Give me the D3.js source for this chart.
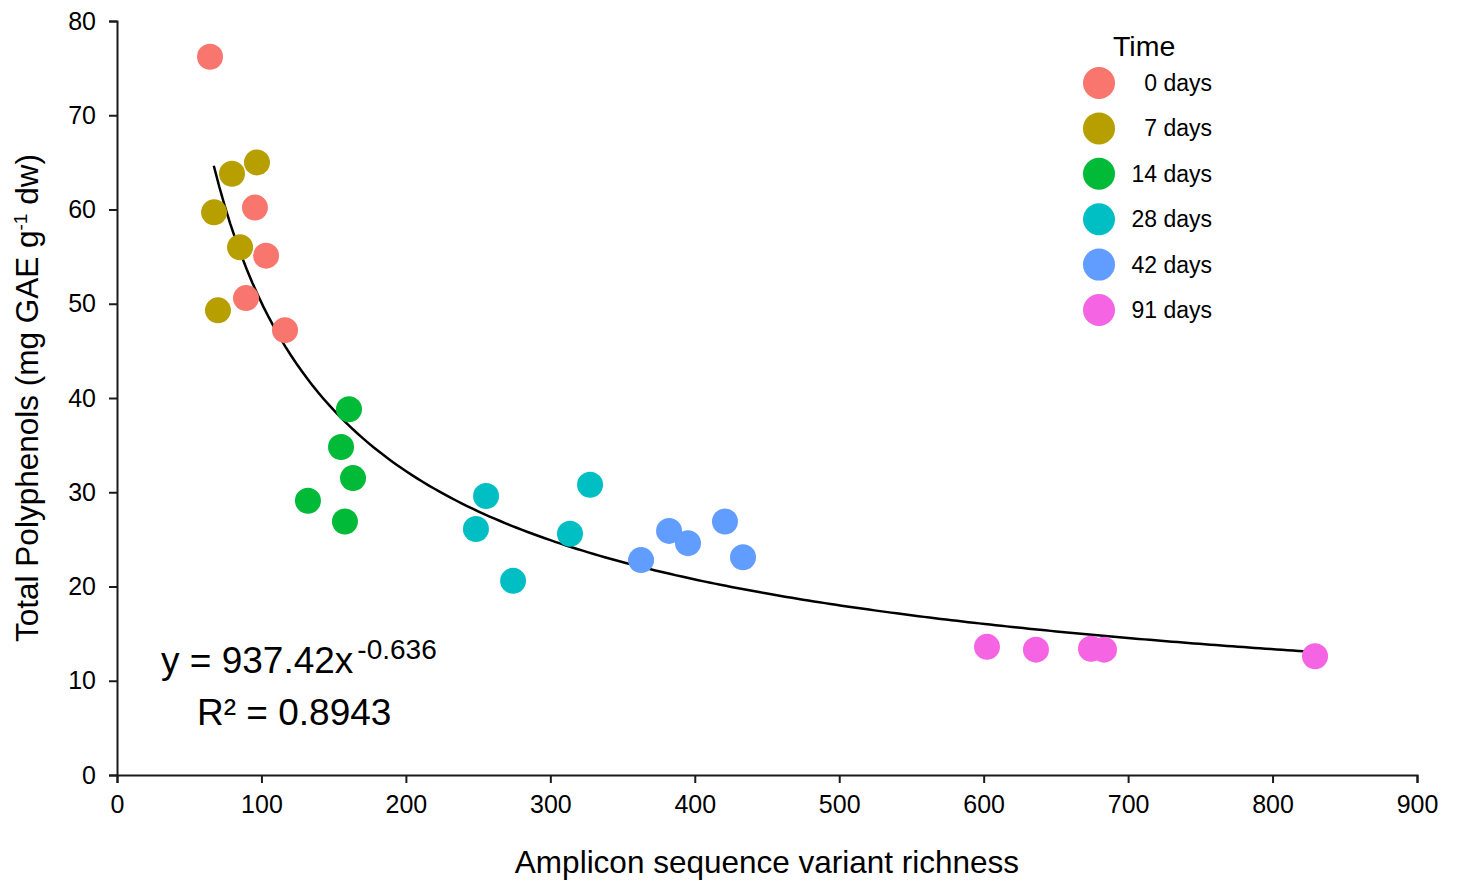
<!DOCTYPE html>
<html>
<head>
<meta charset="utf-8">
<script src="https://cdn.jsdelivr.net/npm/d3@7"></script>
<style>
  html, body { margin: 0; padding: 0; background: #fff; }
  svg { display: block; font-family: Arial, "Liberation Sans", Helvetica, sans-serif; }
</style>
</head>
<body>
<svg id="chart" width="1458" height="881"></svg>
<script>
// ---- Data ----
const groups = ["0 days", "7 days", "14 days", "28 days", "42 days", "91 days"];
const groupColors = ["#F8766D", "#B79F00", "#00BA38", "#00BFC4", "#619CFF", "#F564E3"];

const richness0  = [64.4, 95.5, 103.2, 89.3, 116.3];
const phenols0   = [76.2, 60.2, 55.1, 50.6, 47.2];
const richness7  = [79.6, 96.9, 67.2, 85.2, 69.9];
const phenols7   = [63.8, 65.0, 59.7, 56.0, 49.3];
const richness14 = [160.6, 155.1, 163.4, 132.2, 157.8];
const phenols14  = [38.8, 34.8, 31.5, 29.1, 26.9];
const richness28 = [255.5, 248.5, 327.5, 313.6, 274.2];
const phenols28  = [29.6, 26.1, 30.8, 25.6, 20.6];
const richness42 = [382.2, 395.3, 420.9, 362.8, 433.4];
const phenols42  = [25.9, 24.6, 26.9, 22.8, 23.1];
const richness91 = [602.3, 636.2, 674.3, 683.3, 829.4];
const phenols91  = [13.6, 13.3, 13.4, 13.3, 12.6];

const xTicks = [0, 100, 200, 300, 400, 500, 600, 700, 800, 900];
const yTicks = [0, 10, 20, 30, 40, 50, 60, 70, 80];

// power-law fit y = a * x^b
const fitA = 937.42;
const fitB = -0.636;
const fitRange = [67, 829.4];

const richnessByGroup = [richness0, richness7, richness14, richness28, richness42, richness91];
const phenolsByGroup  = [phenols0, phenols7, phenols14, phenols28, phenols42, phenols91];

const points = [];
groups.forEach((g, gi) => {
  richnessByGroup[gi].forEach((xv, i) => points.push({ group: g, x: xv, y: phenolsByGroup[gi][i] }));
});

// ---- Chart ----
const svg = d3.select("#chart");
const x = d3.scaleLinear().domain([0, 900]).range([117, 1417]);
const y = d3.scaleLinear().domain([0, 80]).range([775, 21]);
const color = d3.scaleOrdinal().domain(groups).range(groupColors);

// axes
const xAxis = svg.append("g").attr("transform", `translate(0,${y(0)})`)
  .call(d3.axisBottom(x).tickValues(xTicks).tickSizeOuter(0).tickSize(8).tickPadding(12));
const yAxis = svg.append("g").attr("transform", `translate(${x(0)},0)`)
  .call(d3.axisLeft(y).tickValues(yTicks).tickSizeOuter(0).tickSize(8).tickPadding(13));
[xAxis, yAxis].forEach(a => {
  a.selectAll("path.domain").attr("stroke", "#1a1a1a").attr("stroke-width", 2);
  a.selectAll(".tick line").attr("stroke", "#1a1a1a").attr("stroke-width", 2);
  a.selectAll(".tick text").attr("fill", "#000").style("font-size", "25px")
    .style("font-family", "Arial, 'Liberation Sans', sans-serif");
});
xAxis.selectAll(".tick text").attr("dy", "0.71em");

// fitted curve
const curvePts = d3.range(0, 201).map(i => {
  const xv = fitRange[0] + (fitRange[1] - fitRange[0]) * i / 200;
  return [xv, fitA * Math.pow(xv, fitB)];
});
svg.append("path")
  .datum(curvePts)
  .attr("d", d3.line().x(d => x(d[0])).y(d => y(d[1])))
  .attr("fill", "none").attr("stroke", "#000").attr("stroke-width", 2.5);

// points
svg.append("g").selectAll("circle").data(points).join("circle")
  .attr("cx", d => x(d.x)).attr("cy", d => y(d.y)).attr("r", 13)
  .attr("fill", d => color(d.group));

// equation text
const eq = svg.append("text").attr("x", 161).attr("y", 673).style("font-size", "37px").attr("fill", "#000");
eq.append("tspan").text("y = 937.42x");
eq.append("tspan").attr("dx", 4).attr("dy", -14).style("font-size", "28px").text("-0.636");
svg.append("text").attr("x", 197).attr("y", 725).style("font-size", "37px").attr("fill", "#000").text("R² = 0.8943");

// axis titles
svg.append("text").attr("x", 767).attr("y", 873).attr("text-anchor", "middle")
  .style("font-size", "31.5px").attr("fill", "#000").text("Amplicon sequence variant richness");
const yt = svg.append("text").attr("transform", "translate(38,398) rotate(-90)").attr("text-anchor", "middle")
  .style("font-size", "31.5px").attr("fill", "#000");
yt.append("tspan").text("Total Polyphenols (mg GAE g");
yt.append("tspan").attr("dy", -11).style("font-size", "19px").text("-1");
yt.append("tspan").attr("dy", 11).text(" dw)");

// legend
const lg = svg.append("g");
lg.append("text").attr("x", 1113).attr("y", 56).style("font-size", "28.5px").attr("fill", "#000").text("Time");
groups.forEach((g, i) => {
  const cy = 83 + i * 45.4;
  lg.append("circle").attr("cx", 1099).attr("cy", cy).attr("r", 16).attr("fill", color(g));
  lg.append("text").attr("x", 1212).attr("y", cy + 8).attr("text-anchor", "end")
    .style("font-size", "23px").attr("fill", "#000").text(g);
});
</script>
</body>
</html>
